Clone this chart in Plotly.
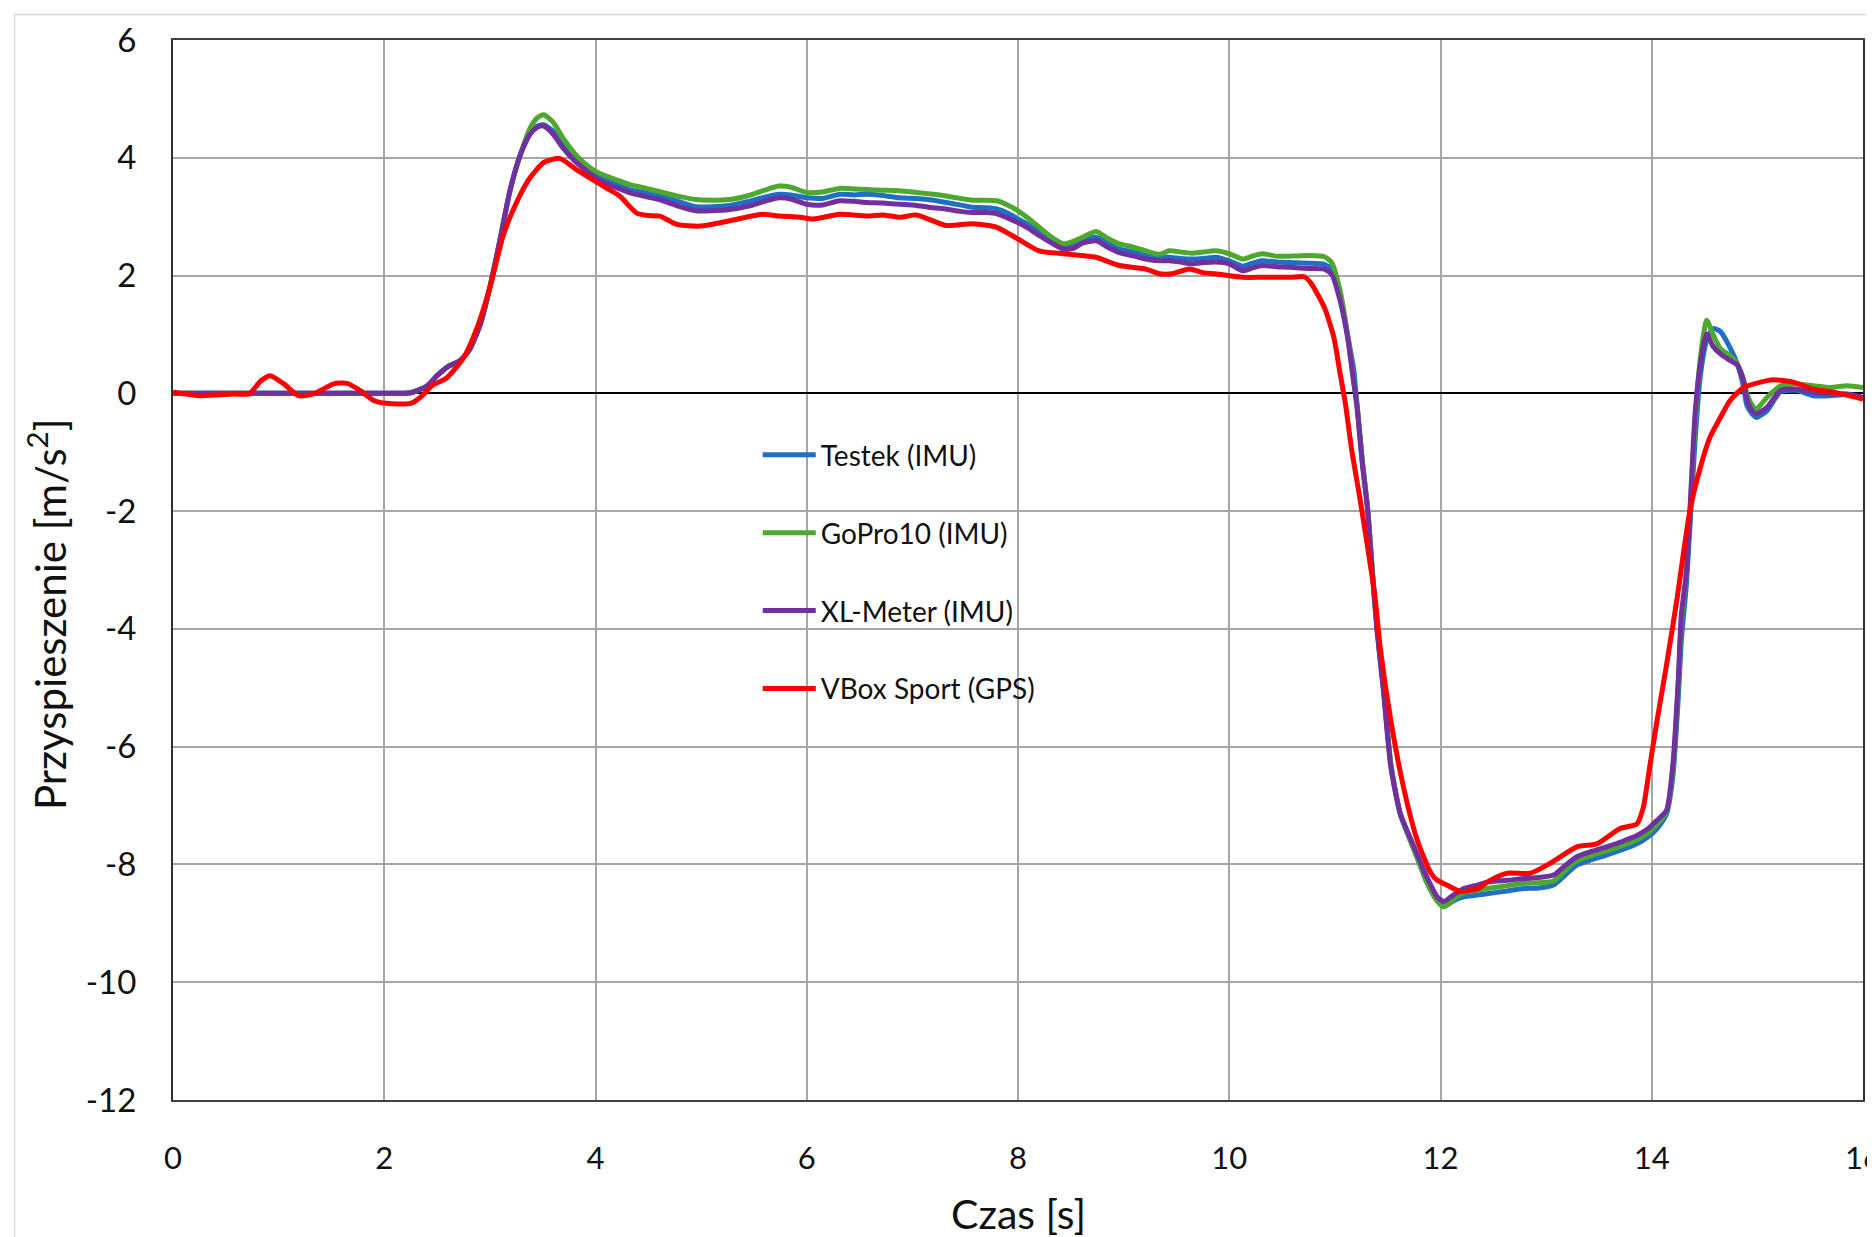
import plotly.graph_objects as go

# ---------------- data ----------------
t_imu = [0, 0.5, 1.0, 1.5, 2.0, 2.25, 2.4, 2.5, 2.6, 2.72, 2.81, 2.91, 3.0, 3.1, 3.19, 3.29,
         3.38, 3.45, 3.51, 3.6, 3.69, 3.8, 3.9, 4.0, 4.16, 4.32, 4.48, 4.64, 4.8, 4.95, 5.1,
         5.27, 5.45, 5.6, 5.74, 5.85, 6.0, 6.15, 6.31, 6.45, 6.57, 6.72, 6.88, 7.04, 7.2, 7.32,
         7.45, 7.57, 7.7, 7.8, 7.9, 8.0, 8.1, 8.2, 8.32, 8.43, 8.52, 8.61, 8.74, 8.85, 8.96,
         9.1, 9.21, 9.34, 9.43, 9.54, 9.64, 9.76, 9.87, 10.0, 10.13, 10.22, 10.31, 10.45, 10.58,
         10.75, 10.9, 10.97, 11.05, 11.12, 11.18, 11.21, 11.26, 11.31, 11.35, 11.40, 11.46,
         11.53, 11.62, 11.75, 11.87, 11.97, 12.03, 12.12, 12.22, 12.35, 12.47, 12.63, 12.79,
         12.93, 13.07, 13.18, 13.29, 13.43, 13.57, 13.72, 13.86, 13.96, 14.05, 14.14, 14.20,
         14.25, 14.28, 14.33, 14.41, 14.46, 14.52, 14.58, 14.65, 14.74, 14.81, 14.87, 14.90,
         14.95, 14.99, 15.09, 15.22, 15.37, 15.53, 15.69, 15.85, 16.0]

testek_imu = [0, 0, 0, 0, 0, 0.01, 0.12, 0.30, 0.45, 0.56, 0.75, 1.18, 1.80, 2.64, 3.44, 4.06,
              4.42, 4.54, 4.56, 4.45, 4.22, 4.00, 3.86, 3.72, 3.58, 3.46, 3.40, 3.34, 3.25, 3.17,
              3.17, 3.19, 3.26, 3.33, 3.38, 3.37, 3.32, 3.31, 3.38, 3.37, 3.38, 3.36, 3.32, 3.31,
              3.28, 3.24, 3.20, 3.16, 3.15, 3.13, 3.06, 2.96, 2.86, 2.74, 2.59, 2.48, 2.52, 2.60,
              2.65, 2.54, 2.45, 2.40, 2.34, 2.31, 2.31, 2.29, 2.28, 2.29, 2.31, 2.25, 2.16, 2.21,
              2.25, 2.23, 2.22, 2.21, 2.19, 2.10, 1.65, 1.00, 0.38, -0.20, -1.15, -1.95, -2.90,
              -4.00, -5.00, -6.30, -7.15, -7.75, -8.30, -8.62, -8.72, -8.62, -8.55, -8.52, -8.49,
              -8.45, -8.41, -8.40, -8.35, -8.18, -8.01, -7.92, -7.84, -7.75, -7.65, -7.54, -7.39,
              -7.14, -6.50, -5.20, -4.20, -3.20, -0.80, 0.30, 0.90, 1.10, 1.05, 0.78, 0.50, 0.10,
              -0.20, -0.35, -0.41, -0.30, 0.03, 0.05, -0.04, -0.04, -0.02, -0.07]

gopro10_imu = [0, 0, 0, 0, 0, 0.01, 0.12, 0.30, 0.45, 0.56, 0.75, 1.18, 1.80, 2.64, 3.44, 4.06,
               4.50, 4.68, 4.73, 4.60, 4.34, 4.08, 3.90, 3.77, 3.65, 3.55, 3.48, 3.41, 3.34, 3.29,
               3.28, 3.29, 3.36, 3.45, 3.52, 3.50, 3.41, 3.42, 3.48, 3.47, 3.46, 3.45, 3.44, 3.41,
               3.38, 3.35, 3.31, 3.28, 3.28, 3.27, 3.20, 3.10, 2.97, 2.82, 2.65, 2.54, 2.58, 2.65,
               2.75, 2.63, 2.54, 2.48, 2.42, 2.36, 2.42, 2.40, 2.38, 2.40, 2.42, 2.37, 2.28, 2.33,
               2.37, 2.33, 2.33, 2.34, 2.32, 2.22, 1.74, 1.00, 0.20, -0.20, -1.15, -1.95, -2.90,
               -4.00, -5.00, -6.30, -7.15, -7.75, -8.30, -8.62, -8.72, -8.60, -8.48, -8.44, -8.40,
               -8.36, -8.32, -8.31, -8.28, -8.10, -7.94, -7.85, -7.77, -7.68, -7.58, -7.47, -7.32,
               -7.10, -6.40, -5.00, -3.90, -3.00, -0.50, 0.60, 1.24, 1.00, 0.76, 0.64, 0.50, 0.22,
               0.00, -0.20, -0.27, -0.07, 0.13, 0.16, 0.13, 0.10, 0.13, 0.10]

xlmeter_imu = [0, 0, 0, 0, 0, 0.01, 0.12, 0.30, 0.45, 0.56, 0.75, 1.18, 1.80, 2.64, 3.44, 4.06,
               4.40, 4.52, 4.54, 4.40, 4.17, 3.95, 3.80, 3.66, 3.52, 3.41, 3.34, 3.27, 3.17, 3.10,
               3.10, 3.12, 3.18, 3.26, 3.32, 3.30, 3.21, 3.20, 3.27, 3.26, 3.24, 3.23, 3.21, 3.19,
               3.15, 3.13, 3.09, 3.07, 3.07, 3.05, 2.98, 2.90, 2.80, 2.68, 2.55, 2.45, 2.46, 2.55,
               2.59, 2.48, 2.39, 2.33, 2.28, 2.25, 2.25, 2.23, 2.20, 2.22, 2.23, 2.20, 2.08, 2.13,
               2.17, 2.15, 2.14, 2.12, 2.11, 2.02, 1.57, 0.95, 0.16, -0.24, -1.20, -1.99, -2.95,
               -4.05, -5.06, -6.35, -7.14, -7.70, -8.21, -8.55, -8.63, -8.52, -8.41, -8.35, -8.29,
               -8.27, -8.24, -8.22, -8.18, -8.02, -7.87, -7.78, -7.70, -7.61, -7.51, -7.40, -7.25,
               -7.08, -6.30, -4.89, -3.76, -3.00, -0.35, 0.50, 1.01, 0.80, 0.67, 0.56, 0.48, 0.22,
               -0.10, -0.30, -0.35, -0.24, 0.05, 0.07, 0.02, -0.01, -0.01, -0.07]

t_gps = [0, 0.27, 0.58, 0.72, 0.83, 0.92, 1.05, 1.19, 1.33, 1.52, 1.65, 1.77, 1.90, 2.02, 2.15,
         2.25, 2.34, 2.46, 2.59, 2.75, 2.88, 3.0, 3.13, 3.26, 3.38, 3.51, 3.66, 3.82, 4.0, 4.12,
         4.23, 4.39, 4.5, 4.61, 4.77, 4.99, 5.27, 5.58, 5.74, 5.94, 6.06, 6.31, 6.57, 6.72, 6.88,
         7.04, 7.32, 7.57, 7.8, 8.0, 8.2, 8.43, 8.61, 8.74, 8.96, 9.21, 9.34, 9.46, 9.62, 9.75,
         9.87, 10.13, 10.31, 10.58, 10.71, 10.77, 10.90, 10.99, 11.05, 11.10, 11.16, 11.23, 11.29,
         11.38, 11.43, 11.53, 11.65, 11.78, 11.91, 11.97, 12.06, 12.19, 12.35, 12.47, 12.63,
         12.85, 13.04, 13.29, 13.48, 13.70, 13.86, 13.92, 13.98, 14.05, 14.14, 14.24, 14.36,
         14.46, 14.55, 14.65, 14.74, 14.87, 15.03, 15.15, 15.34, 15.53, 15.72, 16.0]

vbox_sport_gps = [0.02, -0.04, -0.01, -0.01, 0.21, 0.30, 0.16, -0.04, -0.01, 0.16, 0.17, 0.05,
                  -0.12, -0.17, -0.18, -0.17, -0.07, 0.14, 0.26, 0.60, 1.12, 1.80, 2.70, 3.27,
                  3.66, 3.92, 3.99, 3.80, 3.60, 3.47, 3.35, 3.06, 3.02, 3.01, 2.87, 2.84, 2.93,
                  3.04, 3.01, 2.99, 2.96, 3.04, 3.01, 3.03, 2.99, 3.03, 2.85, 2.88, 2.82, 2.62,
                  2.42, 2.37, 2.34, 2.31, 2.17, 2.11, 2.03, 2.03, 2.11, 2.05, 2.03, 1.97, 1.97,
                  1.97, 1.98, 1.88, 1.46, 0.95, 0.33, -0.18, -0.97, -1.71, -2.38, -3.46, -4.33,
                  -5.56, -6.69, -7.59, -8.15, -8.27, -8.35, -8.46, -8.41, -8.27, -8.15, -8.15,
                  -7.98, -7.70, -7.65, -7.39, -7.31, -7.03, -6.35, -5.56, -4.61, -3.48, -2.00,
                  -1.26, -0.75, -0.41, -0.125, 0.10, 0.19, 0.23, 0.19, 0.07, 0.02, -0.10]

series_names = ["Testek (IMU)", "GoPro10 (IMU)", "XL-Meter (IMU)", "VBox Sport (GPS)"]
series_colors = ["#1F6FC5", "#4EA72E", "#7030A0", "#FF0000"]

x_tickvals = [0, 2, 4, 6, 8, 10, 12, 14, 16]
x_ticktext = ["0", "2", "4", "6", "8", "10", "12", "14", "16"]
y_tickvals = [-12, -10, -8, -6, -4, -2, 0, 2, 4, 6]
y_ticktext = ["-12", "-10", "-8", "-6", "-4", "-2", "0", "2", "4", "6"]

x_title = "Czas [s]"
y_title = "Przyspieszenie [m/s<sup>2</sup>]"

# ---------------- figure ----------------
FONT = "Lato, 'Open Sans', sans-serif"
fig = go.Figure()

xs = [t_imu, t_imu, t_imu, t_gps]
ys = [testek_imu, gopro10_imu, xlmeter_imu, vbox_sport_gps]
for i, (x, y) in enumerate(zip(xs, ys)):
    fig.add_trace(go.Scatter(
        x=x, y=y, mode="lines", name=series_names[i], legendgroup=f"g{i}",
        line=dict(color=series_colors[i], width=5, shape="spline", smoothing=0.6),
    ))

# the page body adds an 8 px offset; the figure is sized so that the plot area
# lands at page pixels x 173..1863, y 39.5..1099.5
OFF = 8
W, H = 1875 - OFF, 1237 - OFF
L, R, T, B = 173 - OFF, 12, 40 - OFF, 137

fig.update_layout(
    width=W, height=H,
    margin=dict(l=L, r=R, t=T, b=B, autoexpand=False),
    paper_bgcolor="white", plot_bgcolor="white",
    font=dict(family=FONT, color="#111111", size=30),
    showlegend=True,
    legend=dict(
        x=0.346, xanchor="left", y=0.632, yanchor="top",
        bgcolor="rgba(0,0,0,0)", borderwidth=0,
        font=dict(family=FONT, size=28, color="#111111"),
        tracegroupgap=38.5, itemwidth=53, traceorder="grouped",
    ),
    xaxis=dict(
        range=[0, 16], tickvals=x_tickvals, ticktext=x_ticktext,
        showgrid=True, gridcolor="#A6A6A6", gridwidth=1.5,
        showline=True, linecolor="#404040", linewidth=2, mirror=True,
        zeroline=False, ticks="", ticklabelstandoff=30, automargin=False,
        ticklabeloverflow="allow",
        tickfont=dict(family=FONT, size=31, color="#111111"),
    ),
    yaxis=dict(
        range=[-12, 6], tickvals=y_tickvals, ticktext=y_ticktext,
        showgrid=True, gridcolor="#A6A6A6", gridwidth=1.5,
        showline=True, linecolor="#303030", linewidth=2, mirror=True,
        zeroline=True, zerolinecolor="#000000", zerolinewidth=2,
        ticks="", ticklabelstandoff=28, automargin=False,
        ticklabeloverflow="allow",
        tickfont=dict(family=FONT, size=33, color="#111111"),
    ),
)

pw, ph = W - L - R, H - T - B
def px_x(p):
    return (p - OFF - L) / pw
def px_y(p):
    return (H - B - (p - OFF)) / ph

# axis titles
fig.add_annotation(text=x_title, xref="paper", yref="paper", x=0.5, y=px_y(1213),
                   xanchor="center", yanchor="middle", showarrow=False,
                   font=dict(family=FONT, size=41, color="#111111"))
fig.add_annotation(text=y_title, xref="paper", yref="paper", x=px_x(47), y=px_y(614),
                   xanchor="center", yanchor="middle", showarrow=False, textangle=-90,
                   font=dict(family=FONT, size=42, color="#111111"))

# white legend panel over the gridlines
fig.add_shape(type="rect", xref="paper", yref="paper",
              x0=px_x(701), x1=px_x(1083), y0=px_y(727), y1=px_y(415),
              fillcolor="white", line=dict(width=0), layer="between")
# outer chart-area border (partly cropped in the reference)
fig.add_shape(type="rect", xref="paper", yref="paper",
              x0=px_x(14.5), x1=1.2, y0=-0.3, y1=px_y(14.5),
              fillcolor="rgba(0,0,0,0)", line=dict(color="#D9D9D9", width=1.5), layer="below")

fig.write_html("out.html")
